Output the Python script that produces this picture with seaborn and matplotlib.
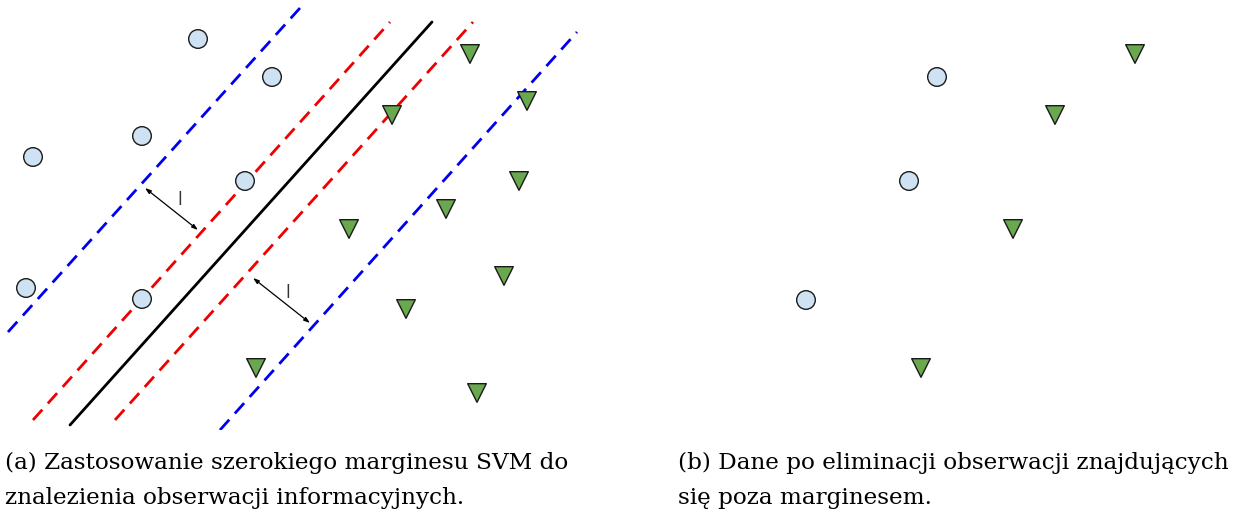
"""SVM wide margin sketch: observations inside and outside the margin."""
import pandas as pd
import matplotlib.pyplot as plt
import seaborn as sns

# panel (a): all observations, picture coordinates (y grows downwards)
circ_a_x = [198, 272, 142, 33, 245, 26, 142]
circ_a_y = [39, 77, 136, 157, 181, 288, 299]
tri_a_x = [470, 527, 392, 519, 446, 349, 504, 406, 256, 477]
tri_a_y = [54, 101, 115, 181, 209, 229, 276, 309, 368, 393]

# panel (b): observations left after elimination
circ_b_x = [937, 909, 806]
circ_b_y = [77, 181, 300]
tri_b_x = [1135, 1055, 1013, 921]
tri_b_y = [54, 115, 229, 368]

# separating line and margins as (x0, y0, x1, y1)
hyperplane = [70, 425, 432, 22]
inner_left = [33, 420, 390, 22]
inner_right = [115, 420, 473, 22]
outer_left = [8, 332, 300, 8]
outer_right = [220, 430, 577, 32]

# width arrows (x0, y0, x1, y1) and their "l" labels
arrows = [[145, 188, 198, 230], [253, 278, 310, 323]]
arrow_labels = [[180, 200], [288, 293]]

captions = [
    "(a) Zastosowanie szerokiego marginesu SVM do\nznalezienia obserwacji informacyjnych.",
    "(b) Dane po eliminacji obserwacji znajdujących\nsię poza marginesem.",
]

W, H, TOP = 1242, 518, 430


def points_frame(cx, cy, tx, ty):
    return pd.DataFrame({
        "x": cx + tx,
        "y": cy + ty,
        "cls": ["circle"] * len(cx) + ["triangle"] * len(tx),
    })


def draw_points(ax, df):
    sns.scatterplot(data=df, x="x", y="y", hue="cls", style="cls",
                    markers={"circle": "o", "triangle": "v"},
                    palette={"circle": "#cfe2f3", "triangle": "#6aa84f"},
                    s=180, edgecolor="#1a1a1a", linewidth=1.0,
                    legend=False, ax=ax, zorder=3)


def seg(ax, line, **kw):
    ax.plot([line[0], line[2]], [line[1], line[3]], **kw)


sns.set_style("white")
fig = plt.figure(figsize=(W / 100, H / 100), dpi=100)
half = W / 2
ax_a = fig.add_axes([0, 1 - TOP / H, half / W, TOP / H])
ax_b = fig.add_axes([half / W, 1 - TOP / H, half / W, TOP / H])

ax_a.set(xlim=(0, half), ylim=(TOP, 0))
ax_b.set(xlim=(half, W), ylim=(TOP, 0))

dash = dict(lw=2, dashes=(5, 3))
seg(ax_a, outer_left, color="#0000ee", **dash)
seg(ax_a, outer_right, color="#0000ee", **dash)
seg(ax_a, inner_left, color="#ee0000", **dash)
seg(ax_a, inner_right, color="#ee0000", **dash)
seg(ax_a, hyperplane, color="black", lw=2)

for (x0, y0, x1, y1), (lx, ly) in zip(arrows, arrow_labels):
    ax_a.annotate("", xy=(x1, y1), xytext=(x0, y0),
                  arrowprops=dict(arrowstyle="<|-|>,head_length=0.35,head_width=0.12",
                                  color="black", lw=0.9, shrinkA=0, shrinkB=0))
    ax_a.text(lx, ly, "l", fontsize=12, family="DejaVu Sans", color="#333333",
              ha="center", va="center")

draw_points(ax_a, points_frame(circ_a_x, circ_a_y, tri_a_x, tri_a_y))
draw_points(ax_b, points_frame(circ_b_x, circ_b_y, tri_b_x, tri_b_y))

for ax in (ax_a, ax_b):
    ax.set_axis_off()

for x_px, txt in zip([5, 678], captions):
    fig.text(x_px / W, 1 - 452 / H, txt, ha="left", va="top", color="black",
             fontsize=16.7, family="DejaVu Serif", linespacing=1.75)

plt.savefig("out.png", dpi=100)
plt.close()
